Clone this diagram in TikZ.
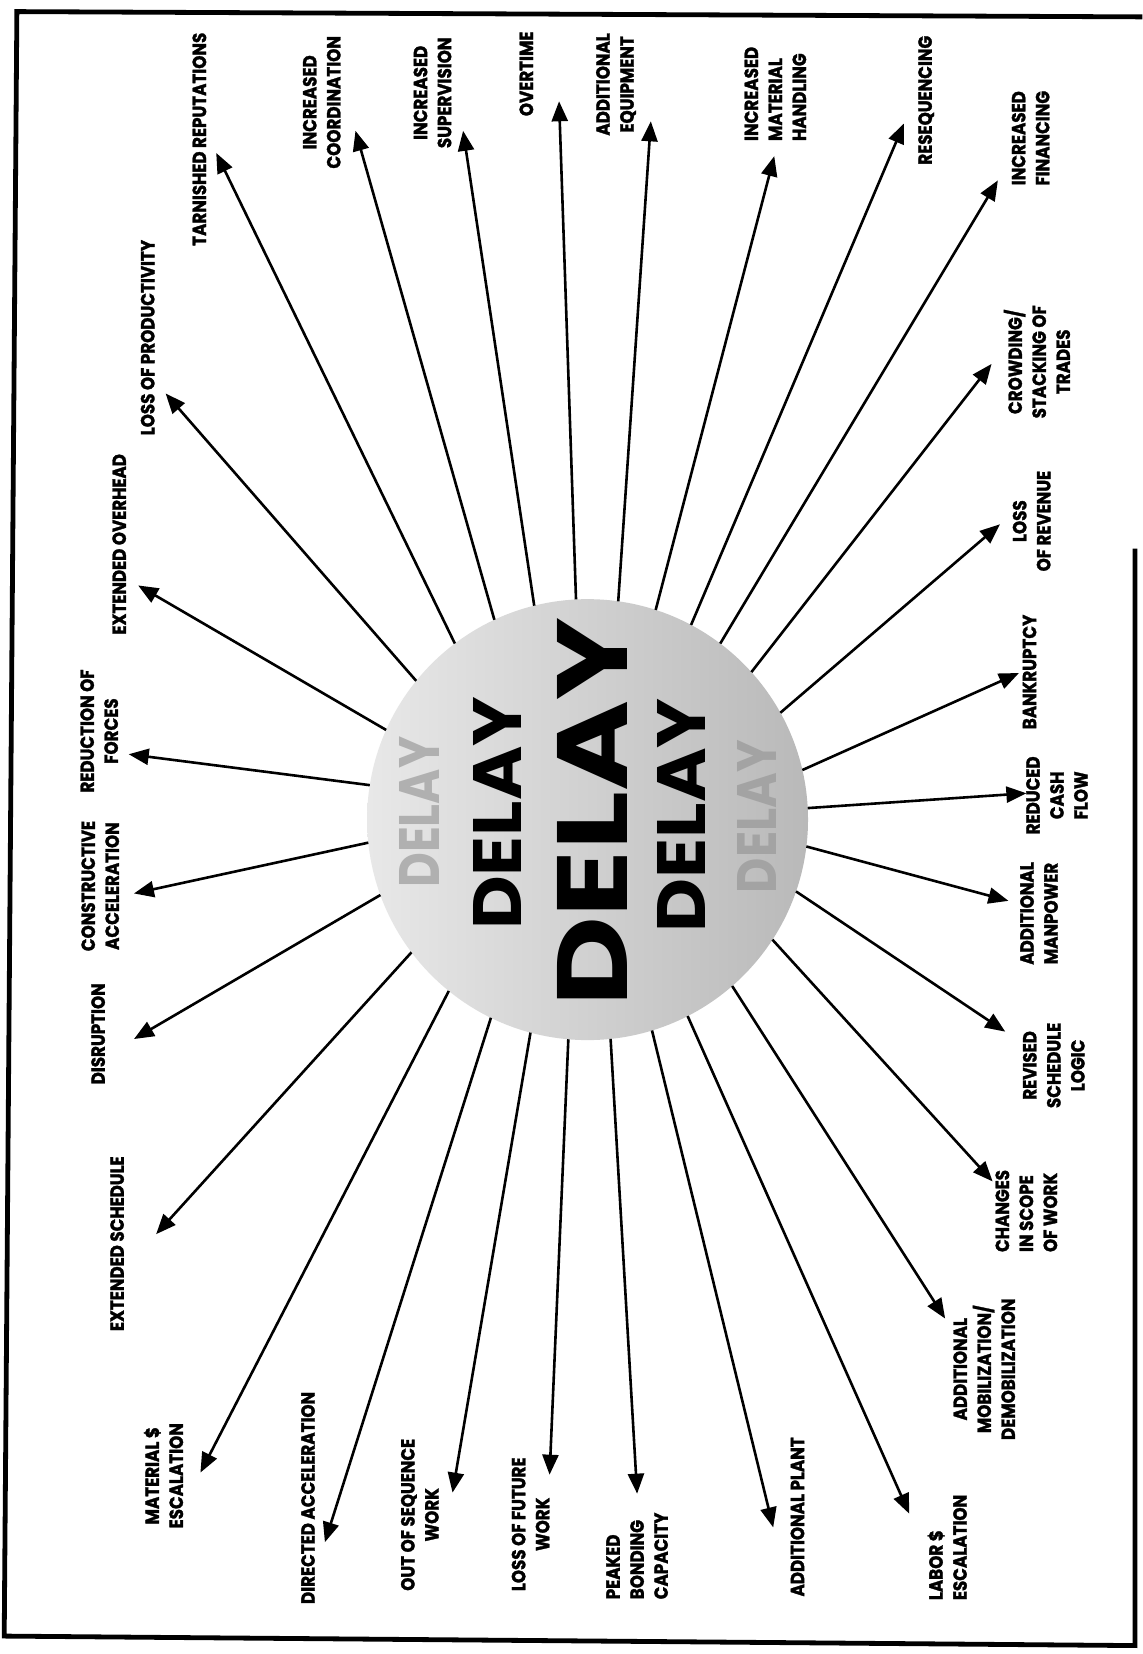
\documentclass[tikz,border=0pt]{standalone}
\usepackage{fontspec}
\usepackage{graphicx}
\newfontfamily\labfont{Poppins}[FakeStretch=0.88,FakeBold=1.6]
\newfontfamily\delfont{Poppins}
\usetikzlibrary{arrows.meta}
\begin{document}
\begin{tikzpicture}[x=1.0545pt,y=-1.0545pt,
  lab/.style={rotate=90, font=\labfont\bfseries\fontsize{19}{24}\selectfont, align=center, inner sep=0pt},
  arr/.style={line width=2.6pt, -{Triangle[length=20pt,width=16pt]}},
  delay/.style={rotate=90, inner sep=0pt, font=\delfont\bfseries},
  frame/.style={line width=4.8pt, line join=miter}
]
\useasboundingbox (0,0) rectangle (1083,1568);
\fill[white] (0,0) rectangle (1083,1568);
% frame
\draw[frame] (1083,16) -- (16,11) -- (4,1551) -- (1076,1560) -- (1076,520);

% central disk
\node[circle, minimum size=440.8pt, inner sep=0pt, outer sep=0pt,
      left color=gray!18, middle color=gray!24, right color=gray!55] (c) at (557,777) {};

% DELAY words
\node[delay, text=gray!62] (d1) at (398,770) {\resizebox{151pt}{40pt}{DELAY}};
\node[delay] (d2) at (472,771) {\resizebox{233pt}{48pt}{DELAY}};
\node[delay] (d3) at (562,770) {\resizebox{389pt}{70pt}{DELAY}};
\node[delay] (d4) at (646,773) {\resizebox{234pt}{48pt}{DELAY}};
\node[delay, text=gray!72] (d5) at (718,774) {\resizebox{153pt}{39pt}{DELAY}};

% labels
\node[lab] (tarn) at (189,132) {TARNISHED REPUTATIONS};
\node[lab] (coord) at (305,97) {INCREASED\\COORDINATION};
\node[lab] (superv) at (410,88) {INCREASED\\SUPERVISION};
\node[lab] (overt) at (499,70) {OVERTIME};
\node[lab] (addeq) at (584,80) {ADDITIONAL\\EQUIPMENT};
\node[lab, align=left] (mat) at (735,89) {INCREASED\\MATERIAL\\HANDLING};
\node[lab] (reseq) at (878,95) {RESEQUENCING};
\node[lab] (fin) at (977,131) {INCREASED\\FINANCING};
\node[lab] (crowd) at (983,343) {CROWDING/\\STACKING OF\\TRADES};
\node[lab] (rev) at (978,494) {LOSS\\OF REVENUE};
\node[lab] (bank) at (976,637) {BANKRUPTCY};
\node[lab] (cash) at (1002,754) {REDUCED\\CASH\\FLOW};
\node[lab] (manp) at (985,866) {ADDITIONAL\\MANPOWER};
\node[lab] (revs) at (999,1010) {REVISED\\SCHEDULE\\LOGIC};
\node[lab, align=left] (chg) at (973,1148) {CHANGES\\IN SCOPE\\OF WORK};
\node[lab] (mob) at (933,1298) {ADDITIONAL\\MOBILIZATION/\\DEMOBILIZATION};
\node[lab, align=left] (labor) at (898,1467) {LABOR \$\\ESCALATION};
\node[lab] (plant) at (756,1438) {ADDITIONAL PLANT};
\node[lab, align=left] (peak) at (604,1475) {PEAKED\\BONDING\\CAPACITY};
\node[lab] (fut) at (503,1445) {LOSS OF FUTURE\\WORK};
\node[lab] (seq) at (398,1436) {OUT OF SEQUENCE\\WORK};
\node[lab] (dir) at (292,1420) {DIRECTED ACCELERATION};
\node[lab] (matesc) at (155,1399) {MATERIAL \$\\ESCALATION};
\node[lab] (exts) at (111,1179) {EXTENDED SCHEDULE};
\node[lab] (disr) at (93,980) {DISRUPTION};
\node[lab] (cons) at (95,840) {CONSTRUCTIVE\\ACCELERATION};
\node[lab] (red) at (94,693) {REDUCTION OF\\FORCES};
\node[lab] (exto) at (113,516) {EXTENDED OVERHEAD};
\node[lab] (prod) at (140,320) {LOSS OF PRODUCTIVITY};

% arrow tips
\foreach \n/\x/\y in {tarn/205/145, coord/337/124, superv/439/124, overt/530/96,
  addeq/617/115, mat/734/148, reseq/857/117, fin/946/171, crowd/940/345,
  rev/948/497, bank/966/638, cash/973/752, manp/956/854, revs/953/978,
  chg/941/1120, mob/896/1250, labor/862/1435, plant/733/1448, peak/604/1416,
  fut/521/1398, seq/429/1415, dir/308/1462, matesc/190/1396, exts/148/1170,
  disr/127/985, cons/127/847, red/122/715, exto/131/555, prod/157/373}
  {\coordinate (\n-t) at (\x,\y);}

% arrows from the disk
\foreach \n/\a in {prod/141.8, tarn/127.6, coord/115.7, superv/104.0, overt/93.3,
  addeq/82.6, mat/72.4, reseq/62.5, fin/53.4, crowd/42.7, rev/29.1, bank/13.8,
  cash/3.3, manp/-7.4, revs/-19.3, chg/-33.0, mob/-49.1, labor/-63.8, plant/-73.7,
  peak/-84.0, fut/265.6, seq/255.3, dir/244.0, matesc/231.6, exts/217.0,
  disr/200.4, cons/186.3, red/171.8, exto/156.6}
  {\draw[arr] (c.\a) -- (\n-t);}
\end{tikzpicture}
\end{document}
